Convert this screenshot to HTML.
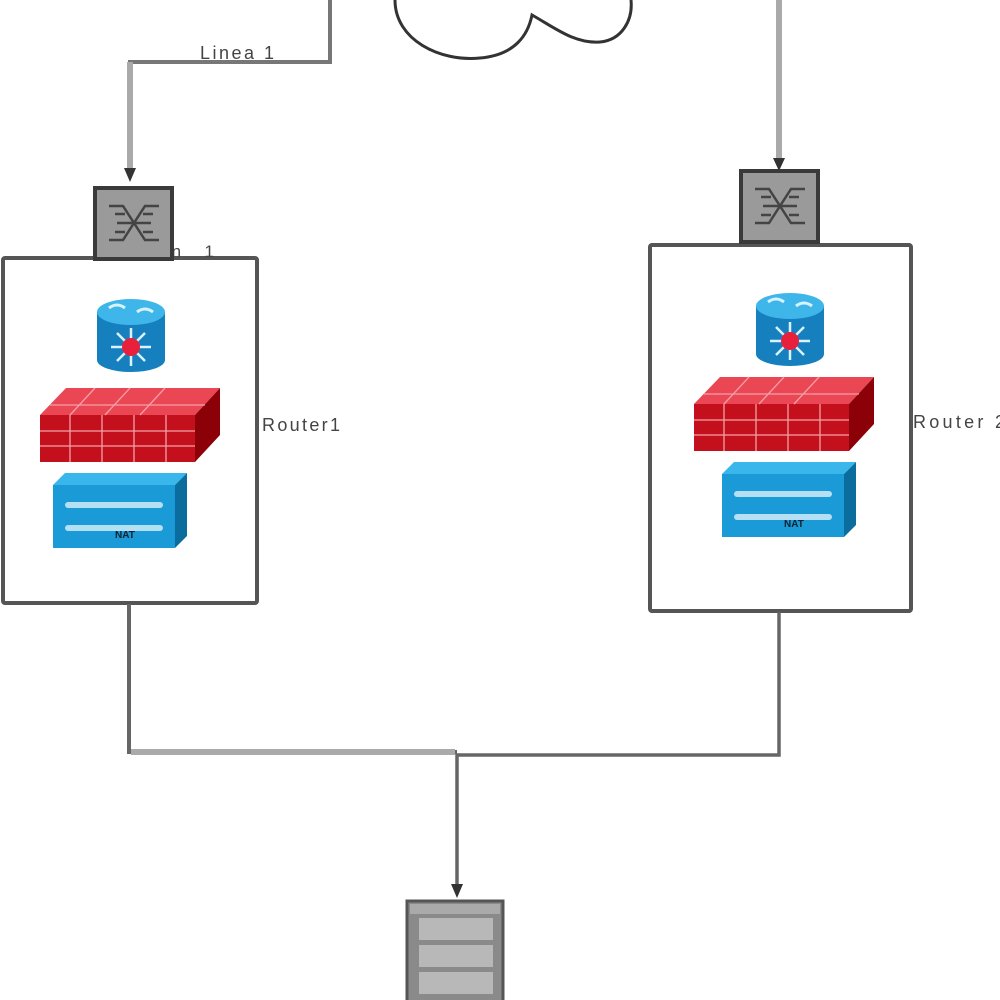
<!DOCTYPE html>
<html><head><meta charset="utf-8"><style>
html,body{margin:0;padding:0;background:#fff;}
svg{display:block;}
text{font-family:"Liberation Sans",sans-serif;fill:#444;}
</style></head><body>
<svg width="1000" height="1000" viewBox="0 0 1000 1000" xmlns="http://www.w3.org/2000/svg">
<defs>
  <g id="router">
    <rect x="0" y="14" width="68" height="48" fill="#1580bd"/>
    <ellipse cx="34" cy="62" rx="34" ry="12" fill="#1580bd"/>
    <ellipse cx="34" cy="14" rx="34" ry="13" fill="#3fb6ea"/>
    <path d="M12 10 q8 -6 16 0 M40 14 q8 -6 16 0" stroke="#d8f2ff" stroke-width="3" fill="none"/>
    <g stroke="#d8f2ff" stroke-width="2.5">
      <line x1="34" y1="30" x2="34" y2="68"/>
      <line x1="14" y1="49" x2="54" y2="49"/>
      <line x1="20" y1="35" x2="48" y2="63"/>
      <line x1="48" y1="35" x2="20" y2="63"/>
    </g>
    <circle cx="34" cy="49" r="9" fill="#e8203c"/>
  </g>
  <g id="fw">
    <polygon points="0,27 26,0 180,0 155,27" fill="#ea4654"/>
    <rect x="0" y="27" width="155" height="47" fill="#c4101c"/>
    <polygon points="155,27 180,0 180,47 155,74" fill="#8c0008"/>
    <g stroke="#f3a0a6" stroke-width="1.3" fill="none">
      <line x1="0" y1="43" x2="155" y2="43"/>
      <line x1="0" y1="58" x2="155" y2="58"/>
      <line x1="30" y1="27" x2="30" y2="74"/>
      <line x1="62" y1="27" x2="62" y2="74"/>
      <line x1="94" y1="27" x2="94" y2="74"/>
      <line x1="126" y1="27" x2="126" y2="74"/>
      <line x1="10" y1="17" x2="165" y2="17"/>
      <line x1="55" y1="0" x2="30" y2="27"/>
      <line x1="90" y1="0" x2="65" y2="27"/>
      <line x1="125" y1="0" x2="100" y2="27"/>
    </g>
  </g>
  <g id="nat">
    <polygon points="0,12 12,0 134,0 122,12" fill="#39b6ec"/>
    <rect x="0" y="12" width="122" height="63" fill="#1a9ad6"/>
    <polygon points="122,12 134,0 134,63 122,75" fill="#0b6c9e"/>
    <rect x="12" y="29" width="98" height="6" rx="3" fill="#b5dff2"/>
    <rect x="12" y="52" width="98" height="6" rx="3" fill="#b5dff2"/>
    <text x="62" y="65" font-size="10" font-weight="bold" style="fill:#123">NAT</text>
  </g>
  <g id="sw">
    <rect x="0" y="0" width="77" height="71" fill="#9a9a9a" stroke="#3a3a3a" stroke-width="4"/>
    <g stroke="#444" stroke-width="2.5" fill="none">
      <path d="M14 18 h14 l22 34 h14"/>
      <path d="M14 52 h14 l22 -34 h14"/>
      <path d="M22 35 h34"/>
      <path d="M20 26 h10 M48 26 h10 M20 44 h10 M48 44 h10"/>
    </g>
  </g>
</defs>

<!-- cloud -->
<path d="M395 0 C395 40 440 62 480 58 C515 55 528 35 532 15 C555 28 575 44 600 42 C622 40 633 20 631 0" fill="none" stroke="#333" stroke-width="3"/>

<!-- top-left connector -->
<polyline points="330,0 330,62 130,62 130,170" fill="none" stroke="#777" stroke-width="4"/>
<line x1="130" y1="62" x2="130" y2="168" stroke="#aaa" stroke-width="6"/>
<polygon points="124,168 136,168 130,182" fill="#333"/>
<text x="200" y="59" font-size="18" textLength="74">Linea 1</text>

<!-- top-right connector -->
<line x1="779" y1="0" x2="779" y2="160" stroke="#aaa" stroke-width="6"/>
<polygon points="773,158 785,158 779,171" fill="#333"/>

<!-- left container -->
<rect x="3" y="258" width="254" height="345" fill="#fff" stroke="#555" stroke-width="4" rx="2"/>
<use href="#router" x="97" y="298"/>
<use href="#fw" x="40" y="388"/>
<use href="#nat" x="53" y="473"/>
<text x="262" y="431" font-size="18" textLength="78">Router1</text>

<!-- left switch -->
<text x="128" y="257" font-size="17" textLength="86">Wan 1</text>
<use href="#sw" x="95" y="188"/>

<!-- right container -->
<rect x="650" y="245" width="261" height="366" fill="#fff" stroke="#555" stroke-width="4" rx="2"/>
<use href="#router" x="756" y="292"/>
<use href="#fw" x="694" y="377"/>
<use href="#nat" x="722" y="462"/>
<text x="913" y="428" font-size="18" textLength="92">Router 2</text>
<use href="#sw" x="741" y="171"/>

<!-- bottom connectors -->
<polyline points="129,604 129,752 457,752" fill="none" stroke="#666" stroke-width="4"/>
<line x1="131" y1="752" x2="455" y2="752" stroke="#aaa" stroke-width="6"/>
<polyline points="779,612 779,755 457,755 457,885" fill="none" stroke="#666" stroke-width="3.5"/>
<polygon points="451,884 463,884 457,898" fill="#333"/>

<!-- server -->
<rect x="407" y="901" width="96" height="110" fill="#8a8a8a" stroke="#555" stroke-width="3"/>
<rect x="410" y="904" width="90" height="10" fill="#aaa"/>
<rect x="419" y="918" width="74" height="22" fill="#b8b8b8"/>
<rect x="419" y="945" width="74" height="22" fill="#b8b8b8"/>
<rect x="419" y="972" width="74" height="22" fill="#b8b8b8"/>
</svg>
</body></html>
